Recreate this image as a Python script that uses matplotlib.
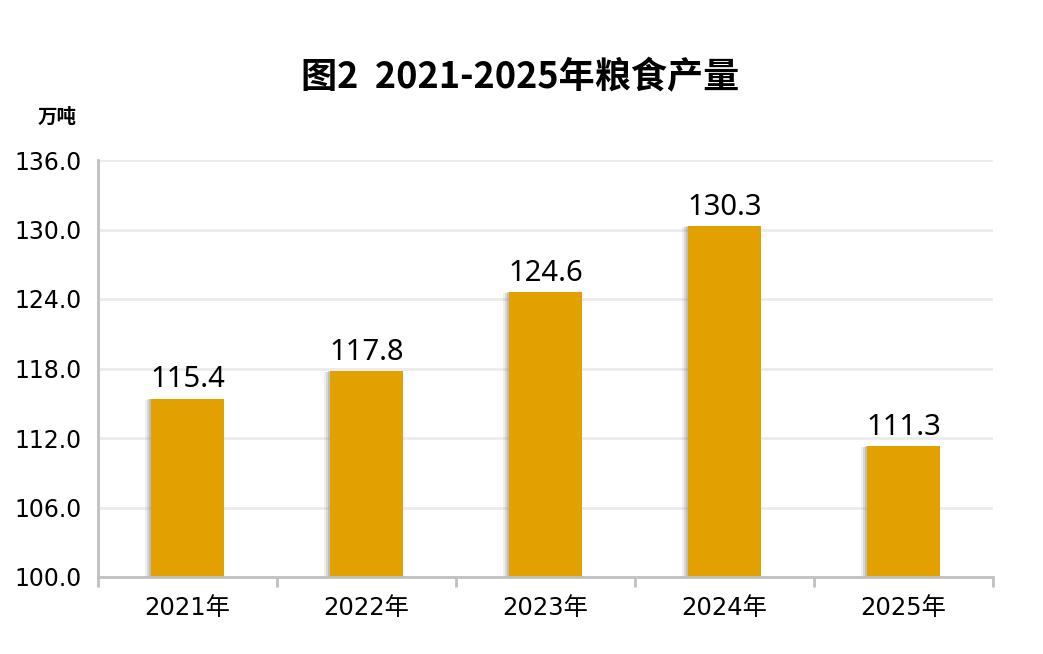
import matplotlib
matplotlib.use("Agg")
import matplotlib.pyplot as plt
import matplotlib.patheffects as pe
from matplotlib.ticker import FixedLocator

years = ["2021年", "2022年", "2023年", "2024年", "2025年"]
values = [115.4, 117.8, 124.6, 130.3, 111.3]
yticks = [100.0, 106.0, 112.0, 118.0, 124.0, 130.0, 136.0]
title = "图2  2021-2025年粮食产量"
unit = "万吨"

fig = plt.figure(figsize=(10.43, 6.54), dpi=100)
ax = fig.add_axes([98/1043, 1-577/654, (993-98)/1043, (577-160)/654])

x = list(range(len(years)))
bars = ax.bar(x, [v - 100 for v in values], bottom=100, width=0.41, color="#E3A100",
              zorder=3, linewidth=0)
for b in bars:
    b.set_path_effects([
        pe.SimplePatchShadow(offset=(-4, -1), shadow_rgbFace="#808080", alpha=0.12),
        pe.SimplePatchShadow(offset=(-2.5, -0.5), shadow_rgbFace="#808080", alpha=0.2),
        pe.SimplePatchShadow(offset=(-1.2, 0), shadow_rgbFace="#808080", alpha=0.3),
        pe.Normal()])

for xi, v in zip(x, values):
    ax.annotate(f"{v:.1f}", (xi, v), xytext=(0, 3), textcoords="offset points",
                ha="center", va="bottom", fontsize=21, family=["Noto Sans"], color="#000000")

ax.set_ylim(100, 136)
ax.set_xlim(-0.5, 4.5)
ax.set_yticks(yticks)
ax.set_yticklabels([f"{t:.1f}" for t in yticks], fontsize=17, family=["DejaVu Sans"])
ax.set_xticks(x)
ax.set_xticklabels(years, fontsize=17.5, family=["DejaVu Sans", "Noto Sans CJK SC"])
ax.xaxis.set_minor_locator(FixedLocator([-0.5, 0.5, 1.5, 2.5, 3.5, 4.5]))
ax.tick_params(axis="x", which="major", length=0, pad=14)
ax.tick_params(axis="x", which="minor", length=7.5, width=2, color="#c0c0c0")
ax.tick_params(axis="y", which="major", length=0, pad=12)

ax.grid(axis="y", color="#ebebeb", linewidth=2, zorder=0)
ax.set_axisbelow(True)
for s in ["top", "right"]:
    ax.spines[s].set_visible(False)
for s in ["left", "bottom"]:
    ax.spines[s].set_color("#c0c0c0")
    ax.spines[s].set_linewidth(2)
    ax.spines[s].set_zorder(4)

fig.text(520/1043, 1-78/654, title, ha="center", va="center", fontsize=26,
         fontweight="bold", family=["Noto Sans CJK SC"])
fig.text(57/1043, 1-117/654, unit, ha="center", va="center", fontsize=14,
         fontweight="bold", family=["Noto Sans CJK SC"])

fig.savefig("out.png", dpi=100)
